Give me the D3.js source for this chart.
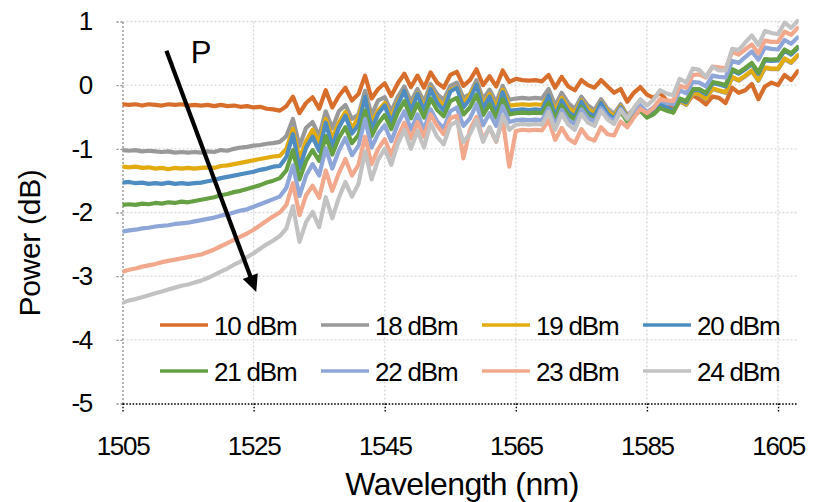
<!DOCTYPE html>
<html><head><meta charset="utf-8">
<script src="https://cdn.jsdelivr.net/npm/d3@7"></script>
<style>
body{margin:0;background:#fff}
svg{display:block}
text{font-family:"Liberation Sans",Arial,Helvetica,sans-serif;fill:#000}
</style>
</head><body><div id="chart"></div>
<script>
// ---------------- data ----------------
const wavelengths = d3.range(1505, 1609, 1); // 1505 ... 1608 nm, 1 nm step

const seriesNames = ["10 dBm","18 dBm","19 dBm","20 dBm","21 dBm","22 dBm","23 dBm","24 dBm"];

const p10 = [-0.30,-0.31,-0.30,-0.32,-0.30,-0.31,-0.32,-0.30,-0.31,-0.30,-0.32,-0.31,-0.32,-0.31,-0.33,-0.31,-0.33,-0.32,-0.34,-0.33,-0.35,-0.34,-0.37,-0.38,
 -0.40,-0.33,-0.18,-0.44,-0.28,-0.19,-0.37,-0.08,-0.35,-0.17,-0.04,-0.24,-0.14,0.15,-0.21,-0.06,0.03,-0.17,0.03,0.18,-0.03,0.15,-0.04,0.20,0.04,-0.04,0.16,0.21,-0.01,0.08,0.25,0.00,0.14,-0.02,0.23,0.05,
 0.10,0.08,0.07,0.08,0.06,0.16,-0.04,0.13,-0.02,-0.08,0.08,0.00,-0.04,0.08,-0.02,-0.12,
 -0.06,-0.26,-0.12,-0.03,-0.15,-0.20,-0.12,-0.24,-0.40,-0.22,-0.30,-0.16,-0.22,-0.30,-0.18,-0.20,-0.28,-0.04,-0.12,-0.08,0.02,-0.22,-0.02,0.04,0.00,0.16,0.08,0.22];

const p18 = [-1.02,-1.03,-1.02,-1.04,-1.03,-1.04,-1.05,-1.04,-1.06,-1.05,-1.06,-1.05,-1.06,-1.04,-1.05,-1.02,-1.03,-1.00,-0.98,-0.97,-0.95,-0.94,-0.92,-0.91,
 -0.89,-0.80,-0.53,-0.96,-0.67,-0.58,-0.80,-0.41,-0.68,-0.41,-0.31,-0.53,-0.46,-0.09,-0.47,-0.24,-0.19,-0.41,-0.18,-0.02,-0.26,-0.06,-0.26,0.02,-0.14,-0.23,-0.01,0.04,-0.20,-0.14,0.08,-0.22,-0.07,-0.27,-0.01,-0.23,
 -0.21,-0.20,-0.21,-0.20,-0.21,-0.06,-0.32,-0.12,-0.28,-0.37,-0.18,-0.32,-0.39,-0.22,-0.37,-0.45,
 -0.30,-0.47,-0.38,-0.32,-0.44,-0.39,-0.30,-0.37,-0.43,-0.25,-0.31,-0.13,-0.15,-0.22,-0.06,-0.09,-0.12,0.12,0.07,0.14,0.22,0.07,0.27,0.25,0.25,0.41,0.35,0.46];

const p19 = [-1.28,-1.29,-1.28,-1.30,-1.29,-1.31,-1.30,-1.32,-1.30,-1.31,-1.30,-1.31,-1.30,-1.29,-1.30,-1.27,-1.26,-1.24,-1.22,-1.20,-1.18,-1.16,-1.14,-1.12,
 -1.11,-1.00,-0.69,-1.16,-0.88,-0.70,-0.91,-0.53,-0.84,-0.59,-0.42,-0.68,-0.50,-0.18,-0.59,-0.40,-0.28,-0.51,-0.26,-0.09,-0.35,-0.13,-0.35,-0.04,-0.22,-0.32,-0.08,-0.03,-0.29,-0.15,0.02,-0.30,-0.14,-0.35,-0.07,-0.32,
 -0.31,-0.30,-0.31,-0.30,-0.31,-0.16,-0.40,-0.20,-0.36,-0.43,-0.24,-0.38,-0.44,-0.27,-0.41,-0.49,
 -0.33,-0.49,-0.41,-0.34,-0.45,-0.40,-0.30,-0.37,-0.43,-0.24,-0.30,-0.12,-0.14,-0.21,-0.05,-0.08,-0.11,0.13,0.08,0.15,0.23,0.08,0.28,0.26,0.26,0.42,0.36,0.47];

const p20 = [-1.53,-1.52,-1.54,-1.53,-1.55,-1.54,-1.55,-1.53,-1.55,-1.54,-1.55,-1.54,-1.53,-1.51,-1.49,-1.46,-1.44,-1.42,-1.40,-1.38,-1.36,-1.33,-1.31,-1.28,
 -1.27,-1.13,-0.77,-1.31,-0.98,-0.81,-1.03,-0.59,-0.96,-0.67,-0.48,-0.76,-0.62,-0.18,-0.69,-0.45,-0.32,-0.59,-0.30,-0.09,-0.41,-0.14,-0.41,-0.06,-0.28,-0.40,-0.10,-0.04,-0.35,-0.22,0.01,-0.37,-0.18,-0.44,-0.11,-0.40,
 -0.39,-0.38,-0.39,-0.38,-0.39,-0.16,-0.49,-0.24,-0.42,-0.50,-0.26,-0.43,-0.49,-0.28,-0.45,-0.53,
 -0.35,-0.51,-0.41,-0.34,-0.45,-0.39,-0.29,-0.35,-0.40,-0.23,-0.27,-0.08,-0.08,-0.14,0.03,0.01,-0.02,0.23,0.18,0.25,0.33,0.18,0.39,0.38,0.39,0.54,0.48,0.58];

const p21 = [-1.88,-1.87,-1.88,-1.86,-1.87,-1.85,-1.86,-1.84,-1.85,-1.83,-1.84,-1.82,-1.80,-1.78,-1.76,-1.73,-1.71,-1.68,-1.66,-1.63,-1.60,-1.57,-1.53,-1.50,
 -1.46,-1.34,-1.02,-1.48,-1.19,-1.02,-1.19,-0.80,-1.09,-0.83,-0.66,-0.91,-0.78,-0.40,-0.80,-0.60,-0.47,-0.69,-0.43,-0.25,-0.52,-0.29,-0.51,-0.21,-0.39,-0.49,-0.25,-0.20,-0.46,-0.35,-0.15,-0.47,-0.30,-0.51,-0.22,-0.46,
 -0.44,-0.43,-0.44,-0.43,-0.44,-0.28,-0.53,-0.32,-0.47,-0.54,-0.34,-0.48,-0.54,-0.37,-0.51,-0.58,
 -0.42,-0.57,-0.48,-0.40,-0.51,-0.46,-0.36,-0.40,-0.43,-0.21,-0.25,-0.06,-0.06,-0.12,0.05,0.03,0.00,0.25,0.20,0.27,0.35,0.20,0.41,0.40,0.41,0.56,0.50,0.60];

const p22 = [-2.30,-2.28,-2.27,-2.25,-2.24,-2.22,-2.21,-2.20,-2.18,-2.17,-2.16,-2.14,-2.12,-2.10,-2.08,-2.05,-2.03,-2.00,-1.97,-1.95,-1.91,-1.87,-1.83,-1.79,
 -1.75,-1.61,-1.26,-1.74,-1.42,-1.24,-1.42,-0.99,-1.31,-1.03,-0.83,-1.10,-0.95,-0.53,-0.98,-0.76,-0.63,-0.88,-0.61,-0.41,-0.70,-0.46,-0.70,-0.38,-0.57,-0.68,-0.41,-0.35,-0.64,-0.52,-0.30,-0.63,-0.44,-0.64,-0.33,-0.58,
 -0.55,-0.54,-0.55,-0.54,-0.55,-0.36,-0.63,-0.39,-0.55,-0.61,-0.38,-0.52,-0.57,-0.36,-0.50,-0.56,
 -0.37,-0.51,-0.41,-0.32,-0.42,-0.35,-0.24,-0.28,-0.30,-0.08,-0.13,0.05,0.04,-0.02,0.15,0.13,0.12,0.38,0.35,0.44,0.53,0.40,0.59,0.57,0.56,0.71,0.65,0.75];

const p23 = [-2.93,-2.90,-2.88,-2.85,-2.83,-2.81,-2.78,-2.76,-2.74,-2.72,-2.70,-2.68,-2.66,-2.62,-2.58,-2.53,-2.48,-2.43,-2.38,-2.33,-2.27,-2.20,-2.13,-2.06,
 -2.00,-1.88,-1.54,-2.04,-1.73,-1.58,-1.77,-1.34,-1.66,-1.38,-1.16,-1.42,-1.25,-0.81,-1.24,-1.00,-0.85,-1.10,-0.81,-0.59,-0.84,-0.58,-0.81,-0.46,-0.64,-0.77,-0.52,-0.48,-1.15,-0.70,-0.50,-0.85,-0.67,-0.89,-0.54,-1.28,
 -0.72,-0.70,-0.71,-0.70,-0.71,-0.55,-0.86,-0.67,-0.84,-0.91,-0.69,-0.83,-0.87,-0.66,-0.77,-0.79,
 -0.57,-0.66,-0.51,-0.37,-0.44,-0.36,-0.22,-0.24,-0.25,-0.01,-0.04,0.16,0.17,0.12,0.29,0.28,0.26,0.52,0.48,0.56,0.64,0.50,0.70,0.68,0.68,0.84,0.79,0.90];

const p24 = [-3.42,-3.38,-3.36,-3.33,-3.30,-3.27,-3.24,-3.21,-3.18,-3.15,-3.13,-3.10,-3.07,-3.03,-2.98,-2.93,-2.88,-2.82,-2.77,-2.70,-2.64,-2.57,-2.50,-2.44,
 -2.37,-2.25,-1.90,-2.46,-2.15,-1.99,-2.23,-1.76,-2.09,-1.77,-1.52,-1.75,-1.55,-1.04,-1.48,-1.17,-1.00,-1.25,-0.92,-0.70,-1.00,-0.72,-0.98,-0.60,-0.81,-0.93,-0.63,-0.57,-0.89,-0.77,-0.55,-0.89,-0.66,-0.88,-0.48,-0.70,
 -0.62,-0.61,-0.62,-0.61,-0.62,-0.42,-0.70,-0.45,-0.62,-0.70,-0.45,-0.59,-0.64,-0.40,-0.54,-0.61,
 -0.39,-0.53,-0.36,-0.22,-0.32,-0.23,-0.08,-0.13,-0.16,0.10,0.04,0.26,0.24,0.13,0.29,0.23,0.23,0.57,0.55,0.67,0.78,0.63,0.85,0.82,0.80,0.98,0.90,1.01];

const seriesValues = [p10, p18, p19, p20, p21, p22, p23, p24];
const seriesColors = ["#d86e2c","#999999","#e2ab10","#4e8cc2","#65a044","#8fa6d9","#f1a88c","#c2c2c2"];

const xTicks = [1505, 1525, 1545, 1565, 1585, 1605];
const yTicks = [1, 0, -1, -2, -3, -4, -5];
const xDomain = [1505, 1608];
const yDomain = [-5, 1];

// annotation: arrow in data coordinates [wavelength, dB]
const arrowFrom = [1511.7, 0.54];
const arrowTo = [1525.4, -3.25];
const arrowLabel = "P";

// ---------------- drawing ----------------
const W = 814, H = 502;
const svg = d3.select("#chart").append("svg").attr("width", W).attr("height", H);

const x = d3.scaleLinear().domain(xDomain).range([122.5, 797.7]);
const y = d3.scaleLinear().domain(yDomain).range([403.5, 21.5]);

// gridlines
const grid = svg.append("g");
grid.selectAll(".hg").data(yTicks.filter(d => d !== -5)).join("line")
  .attr("x1", x(xDomain[0])).attr("x2", x(xDomain[1]))
  .attr("y1", d => y(d)).attr("y2", d => y(d))
  .attr("stroke", "#d9d9d9").attr("stroke-width", 1.3).attr("stroke-dasharray", "2,2");
grid.selectAll(".vg").data(xTicks.filter(d => d !== 1505)).join("line")
  .attr("x1", d => x(d)).attr("x2", d => x(d))
  .attr("y1", y(1)).attr("y2", y(-5))
  .attr("stroke", "#d9d9d9").attr("stroke-width", 1.3).attr("stroke-dasharray", "2,2");

// left axis
const yAxis = svg.append("g").attr("transform", `translate(${x(xDomain[0])},0)`)
  .call(d3.axisLeft(y).tickValues(yTicks).tickFormat(d => String(d)).tickSize(8).tickSizeOuter(0).tickPadding(22.5));
yAxis.select(".domain").attr("stroke", "#8a8a8a").attr("stroke-width", 1.3).attr("stroke-dasharray", "2,2");
yAxis.selectAll(".tick line").attr("stroke", "#8a8a8a").attr("stroke-width", 1.3).attr("stroke-dasharray", "2,2");
yAxis.selectAll(".tick text").attr("font-size", 26).attr("letter-spacing", "-1.3px")
  .attr("font-family", "'Liberation Sans', Arial, sans-serif").attr("fill", "#000");

// bottom axis
const xAxis = svg.append("g").attr("transform", `translate(0,${y(-5)})`)
  .call(d3.axisBottom(x).tickValues(xTicks).tickFormat(d => String(d)).tickSize(8).tickSizeOuter(0).tickPadding(25));
xAxis.select(".domain").attr("stroke", "#000").attr("stroke-width", 1.4).attr("stroke-dasharray", "1.6,1.6");
xAxis.selectAll(".tick line").attr("stroke", "#000").attr("stroke-width", 1.4).attr("stroke-dasharray", "1.6,1.6");
xAxis.selectAll(".tick text").attr("font-size", 26).attr("letter-spacing", "-1.3px")
  .attr("font-family", "'Liberation Sans', Arial, sans-serif").attr("fill", "#000");

// clip for data
svg.append("clipPath").attr("id", "plotclip").append("rect")
  .attr("x", x(xDomain[0])).attr("y", y(1) - 3)
  .attr("width", x(xDomain[1]) - x(xDomain[0]) + 1).attr("height", y(-5) - y(1) + 3);

const line = d3.line().x((d, i) => x(wavelengths[i])).y(d => y(d)).curve(d3.curveLinear);
svg.append("g").attr("clip-path", "url(#plotclip)")
  .selectAll("path").data(seriesValues).join("path")
  .attr("d", d => line(d))
  .attr("fill", "none")
  .attr("stroke", (d, i) => seriesColors[i])
  .attr("stroke-width", 4.2)
  .attr("stroke-linejoin", "round")
  .attr("stroke-linecap", "round");

// legend
const legend = svg.append("g");
const lg = legend.selectAll("g").data(seriesNames).join("g")
  .attr("transform", (d, i) => `translate(${160 + (i % 4) * 161},${325 + Math.floor(i / 4) * 46})`);
lg.append("line").attr("x1", 0).attr("x2", 48).attr("y1", 0).attr("y2", 0)
  .attr("stroke", (d, i) => seriesColors[i]).attr("stroke-width", 3.6);
lg.append("text").attr("x", 54).attr("y", 9.5).attr("font-size", 26).attr("letter-spacing", "-1.2px")
  .text(d => d);

// axis titles
svg.append("text").attr("transform", "translate(40,243) rotate(-90)")
  .attr("text-anchor", "middle").attr("font-size", 30).attr("letter-spacing", "-0.3px")
  .text("Power (dB)");
svg.append("text").attr("x", 462).attr("y", 495)
  .attr("text-anchor", "middle").attr("font-size", 32).attr("letter-spacing", "-0.6px")
  .text("Wavelength (nm)");

// arrow annotation
const ax0 = x(arrowFrom[0]), ay0 = y(arrowFrom[1]);
const ax1 = x(arrowTo[0]), ay1 = y(arrowTo[1]);
const len = Math.hypot(ax1 - ax0, ay1 - ay0);
const ux = (ax1 - ax0) / len, uy = (ay1 - ay0) / len;
const headLen = 17, headHalf = 8;
const bx = ax1 - ux * headLen, by = ay1 - uy * headLen;
svg.append("line").attr("x1", ax0).attr("y1", ay0).attr("x2", bx + ux * 2).attr("y2", by + uy * 2)
  .attr("stroke", "#000").attr("stroke-width", 4.2);
svg.append("path")
  .attr("d", `M${ax1},${ay1}L${bx - uy * headHalf},${by + ux * headHalf}L${bx + uy * headHalf},${by - ux * headHalf}Z`)
  .attr("fill", "#000");
svg.append("text").attr("x", x(1515.4)).attr("y", y(0.35)).attr("font-size", 31).text(arrowLabel);
</script>
</body></html>
